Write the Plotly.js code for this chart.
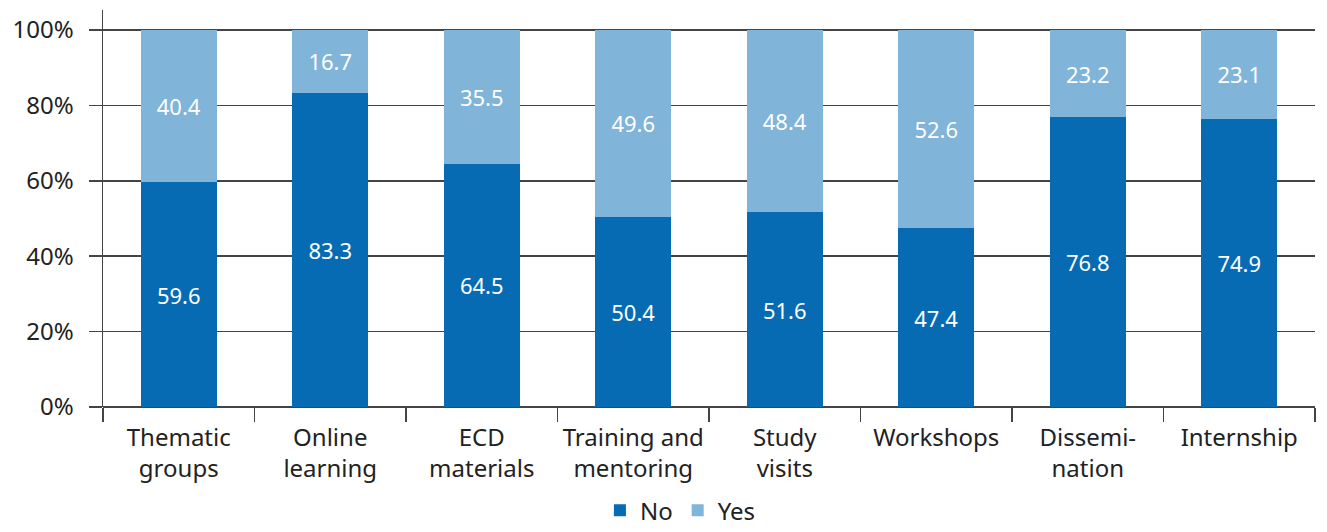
<!DOCTYPE html>
<html>
<head>
<meta charset="utf-8">
<script src="https://cdn.plot.ly/plotly-3.0.1.min.js"></script>
<style>html,body{margin:0;padding:0;background:#fff;}#chart{width:1327px;height:532px;}</style>
</head>
<body>
<div id="chart"></div>
<script>
const categories = ["Thematic<br>groups", "Online<br>learning", "ECD<br>materials", "Training and<br>mentoring", "Study<br>visits", "Workshops", "Dissemi-<br>nation", "Internship"];
const noValues = [59.6, 83.3, 64.5, 50.4, 51.6, 47.4, 76.8, 74.9];
const yesValues = [40.4, 16.7, 35.5, 49.6, 48.4, 52.6, 23.2, 23.1];
const yTickVals = [0, 20, 40, 60, 80, 100];
const yTickText = ["0%", "20%", "40%", "60%", "80%", "100%"];

const FONT = "Noto Sans, Open Sans, DejaVu Sans, sans-serif";
const textFont = {family: FONT, size: 22, color: "#ffffff"};

const traces = [
  {
    type: "bar", name: "No", x: categories, y: noValues,
    marker: {color: "#066bb3", line: {width: 0}},
    text: noValues.map(v => v.toFixed(1)), texttemplate: "%{text}",
    textposition: "inside", insidetextanchor: "middle", textfont: textFont,
    hoverinfo: "skip"
  },
  {
    type: "bar", name: "Yes", x: categories, y: yesValues,
    marker: {color: "#80b4d9", line: {width: 0}},
    text: yesValues.map(v => v.toFixed(1)), texttemplate: "%{text}",
    textposition: "inside", insidetextanchor: "middle", textfont: textFont,
    hoverinfo: "skip"
  }
];

const layout = {
  width: 1327, height: 532,
  margin: {l: 103, r: 12, t: 10, b: 125, pad: 0, autoexpand: false},
  paper_bgcolor: "#ffffff", plot_bgcolor: "#ffffff",
  barmode: "stack", barnorm: "percent", bargap: 0.5,
  font: {family: FONT, size: 24, color: "#222222"},
  showlegend: true,
  legend: {orientation: "h", x: 0.41, xanchor: "left", yref: "container", y: 0.04, yanchor: "middle",
           font: {family: FONT, size: 24, color: "#222222"}, traceorder: "normal",
           itemwidth: 30, tracegroupgap: 0},
  xaxis: {
    type: "category", tickson: "boundaries", ticks: "outside", ticklen: 14,
    tickwidth: 1.5, tickcolor: "#444", showline: false, showgrid: false,
    tickfont: {family: FONT, size: 24, color: "#222"}, fixedrange: true, zeroline: false,
    ticklabelstandoff: 14, automargin: false
  },
  yaxis: {
    range: [0, 105.3], tickvals: yTickVals, ticktext: yTickText,
    ticks: "outside", ticklen: 13, tickwidth: 1.5, tickcolor: "#444",
    showline: true, linecolor: "#444", linewidth: 1.5,
    showgrid: true, gridcolor: "#444", gridwidth: 1.5,
    zeroline: true, zerolinecolor: "#444", zerolinewidth: 1.5,
    tickfont: {family: FONT, size: 24, color: "#222"}, fixedrange: true,
    ticklabelstandoff: 10, automargin: false
  }
};

Plotly.newPlot("chart", traces, layout, {displayModeBar: false, staticPlot: true});
</script>
</body>
</html>
